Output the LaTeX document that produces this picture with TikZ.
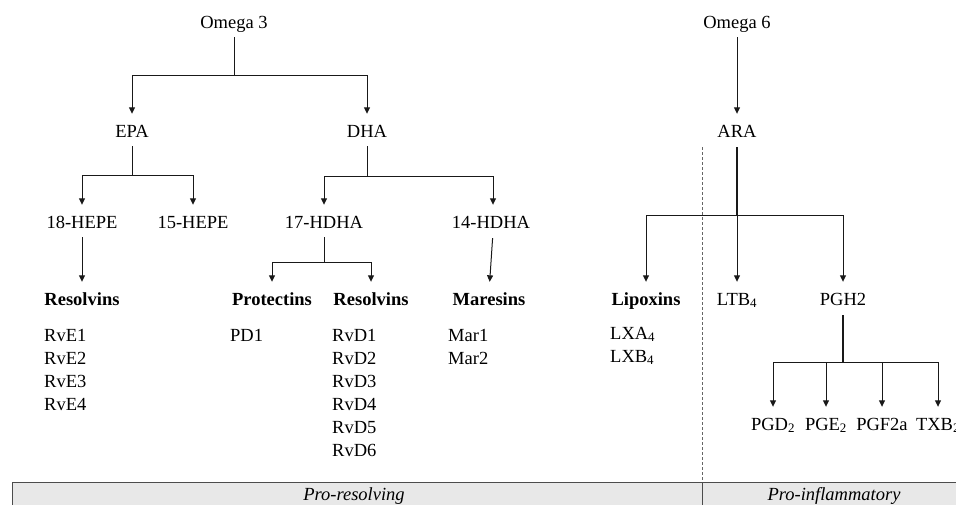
\documentclass[tikz,border=0pt]{standalone}
\usepackage{fontspec}
\setmainfont{Liberation Serif}
\usetikzlibrary{arrows.meta}
\begin{document}
\begin{tikzpicture}[x=1pt,y=1pt,
  lbl/.style={font=\fontsize{18.5}{22}\selectfont, inner sep=0pt, text height=13pt, text depth=4pt, anchor=base},
  bold/.style={lbl, font=\fontsize{18.5}{22}\selectfont\bfseries},
  lst/.style={lbl, anchor=base west},
  ln/.style={line width=1pt, black!90},
  thick ln/.style={line width=1.7pt, black!90},
  arr/.style={ln, -{Triangle[width=6pt,length=6.5pt]}, shorten >=10pt},
  st/.style={shorten <=5pt}
]
\useasboundingbox (0,0) rectangle (956,-504);

% bottom band
\draw[fill=black!9, draw=black!70, line width=0.9pt] (12,-482) rectangle (962,-510);
\draw[black!70, line width=0.9pt] (702,-482) -- (702,-510);
\draw[black!60, line width=0.7pt, dash pattern=on 3pt off 2pt] (702,-147) -- (702,-482);
\node[lbl, font=\fontsize{18.5}{22}\selectfont\itshape] (pr) at (354,-500) {Pro-resolving};
\node[lbl, font=\fontsize{18.5}{22}\selectfont\itshape] (pi) at (834,-500) {Pro-inflammatory};

% nodes
\node[lbl] (om3) at (234,-28) {Omega 3};
\node[lbl] (om6) at (737,-28) {Omega 6};
\node[lbl] (epa) at (132,-137) {EPA};
\node[lbl] (dha) at (367,-137) {DHA};
\node[lbl] (ara) at (737,-137) {ARA};
\node[lbl] (h18) at (82,-228) {18-HEPE};
\node[lbl] (h15) at (193,-228) {15-HEPE};
\node[lbl] (d17) at (324,-228) {17-HDHA};
\node[lbl] (d14) at (491,-228) {14-HDHA};
\node[bold] (rese) at (82,-305) {Resolvins};
\node[bold] (prot) at (272,-305) {Protectins};
\node[bold] (resd) at (371,-305) {Resolvins};
\node[bold] (mar) at (489,-305) {Maresins};
\node[bold] (lip) at (646,-305) {Lipoxins};
\node[lbl] (ltb) at (737,-305) {LTB\textsubscript{4}};
\node[lbl] (pgh) at (843,-305) {PGH2};
\node[lbl] (pgd) at (773,-430) {PGD\textsubscript{2}};
\node[lbl] (pge) at (826,-430) {PGE\textsubscript{2}};
\node[lbl] (pgf) at (882,-430) {PGF2a};
\node[lbl] (txb) at (938,-430) {TXB\textsubscript{2}};

% lists
\node[lst] (e1) at (44,-341) {RvE1};
\node[lst] (e2) at (44,-364) {RvE2};
\node[lst] (e3) at (44,-387) {RvE3};
\node[lst] (e4) at (44,-410) {RvE4};
\node[lst] (pd1) at (230,-341) {PD1};
\node[lst] (dd1) at (332,-341) {RvD1};
\node[lst] (dd2) at (332,-364) {RvD2};
\node[lst] (dd3) at (332,-387) {RvD3};
\node[lst] (dd4) at (332,-410) {RvD4};
\node[lst] (dd5) at (332,-433) {RvD5};
\node[lst] (dd6) at (332,-456) {RvD6};
\node[lst] (m1) at (448,-341) {Mar1};
\node[lst] (m2) at (448,-364) {Mar2};
\node[lst] (lxa) at (610,-339) {LXA\textsubscript{4}};
\node[lst] (lxb) at (610,-362) {LXB\textsubscript{4}};

% junctions
\coordinate (j1) at (234,-75);
\coordinate (j2) at (132,-175);
\coordinate (j3) at (367,-176);
\coordinate (j4) at (324,-262);
\coordinate (j5) at (737,-215);
\coordinate (j6) at (843,-362);

% omega 3
\draw[ln, st] (om3.south) -- (j1);
\draw[arr] (j1) -| (epa.north);
\draw[arr] (j1) -| (dha.north);
% EPA
\draw[ln, st] (epa.south) -- (j2);
\draw[arr] (j2) -| (h18.north);
\draw[arr] (j2) -| (h15.north);
% DHA
\draw[ln, st] (dha.south) -- (j3);
\draw[arr] (j3) -| (d17.north);
\draw[arr] (j3) -| ([xshift=2pt]d14.north);
% 18-HEPE
\draw[arr, st] (h18.south) -- (rese.north);
% 17-HDHA
\draw[ln, st] (d17.south) -- (j4);
\draw[arr] (j4) -| (prot.north);
\draw[arr] (j4) -| (resd.north);
% 14-HDHA
\draw[arr, shorten <=6pt] ([xshift=2pt]d14.south) -- (mar.north);
% omega 6
\draw[arr, st] (om6.south) -- (ara.north);
\draw[thick ln, shorten <=6pt] (ara.south) -- (j5);
\draw[arr] (j5) -| (lip.north);
\draw[arr] (j5) -- (ltb.north);
\draw[arr] (j5) -| (pgh.north);
% PGH2
\draw[thick ln, shorten <=6pt] (pgh.south) -- (j6);
\draw[arr] (j6) -| (pgd.north);
\draw[arr] (j6) -| (pge.north);
\draw[arr] (j6) -| (pgf.north);
\draw[arr] (j6) -| (txb.north);
\end{tikzpicture}
\end{document}
